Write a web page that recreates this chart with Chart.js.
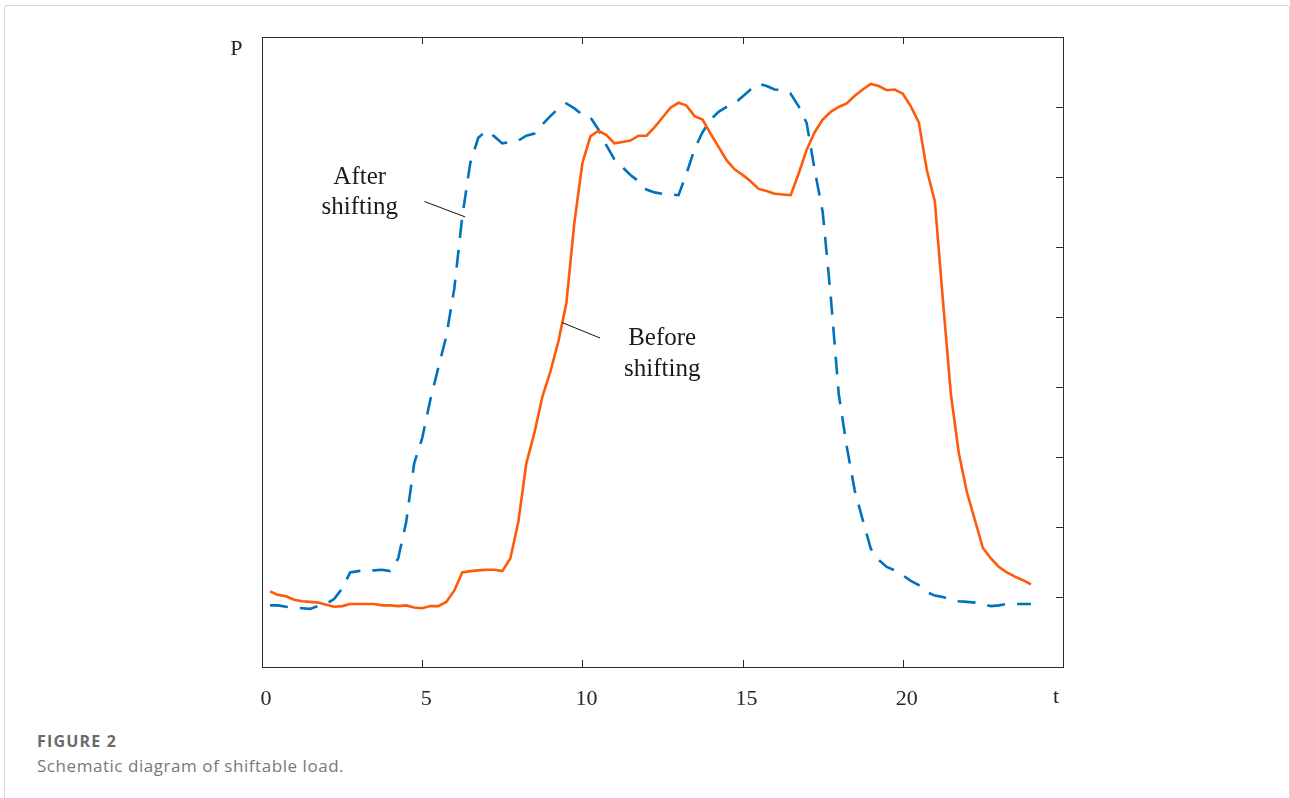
<!DOCTYPE html>
<html>
<head>
<meta charset="utf-8">
<script src="https://cdn.jsdelivr.net/npm/chart.js@4.4.1/dist/chart.umd.min.js"></script>
<style>
  body { margin: 0; background: #fff; }
  #card { position: absolute; left: 4px; top: 5px; width: 1284px; height: 820px; border: 1px solid #d8d8d8; border-radius: 3px; }
  #wrap { position: absolute; left: 0; top: 0; width: 1290px; height: 720px; }
  .cap1 { position: absolute; left: 37px; top: 730px; font: bold 16px "Open Sans", Lato, sans-serif; color: #6a6a6a; letter-spacing: 1.2px; }
  .cap2 { position: absolute; left: 37px; top: 754px; font: 17px "Open Sans", Lato, sans-serif; color: #787878; letter-spacing: 0.55px; }
</style>
</head>
<body>
<div id="card"></div>
<div id="wrap"><canvas id="chart" width="1290" height="720"></canvas></div>
<div class="cap1">FIGURE 2</div>
<div class="cap2">Schematic diagram of shiftable load.</div>
<script>
// Carga desplazable: curva antes / después del desplazamiento (t en horas)
const hours = [
  0.25, 0.5, 0.75, 1, 1.25, 1.5, 1.75, 2, 2.25, 2.5, 2.75, 3,
  3.25, 3.5, 3.75, 4, 4.25, 4.5, 4.75, 5, 5.25, 5.5, 5.75, 6,
  6.25, 6.5, 6.75, 7, 7.25, 7.5, 7.75, 8, 8.25, 8.5, 8.75, 9,
  9.25, 9.5, 9.75, 10, 10.25, 10.5, 10.75, 11, 11.25, 11.5, 11.75, 12,
  12.25, 12.5, 12.75, 13, 13.25, 13.5, 13.75, 14, 14.25, 14.5, 14.75, 15,
  15.25, 15.5, 15.75, 16, 16.25, 16.5, 16.75, 17, 17.25, 17.5, 17.75, 18,
  18.25, 18.5, 18.75, 19, 19.25, 19.5, 19.75, 20, 20.25, 20.5, 20.75, 21,
  21.25, 21.5, 21.75, 22, 22.25, 22.5, 22.75, 23, 23.25, 23.5, 23.75, 24,
];
const beforeShift = [
  1.08, 1.03, 1.01, 0.96, 0.94, 0.93, 0.92, 0.89, 0.86, 0.87, 0.90, 0.90,
  0.90, 0.90, 0.88, 0.88, 0.87, 0.88, 0.85, 0.84, 0.87, 0.87, 0.93, 1.09,
  1.35, 1.37, 1.38, 1.39, 1.39, 1.37, 1.55, 2.07, 2.91, 3.34, 3.86, 4.22,
  4.65, 5.20, 6.35, 7.20, 7.58, 7.66, 7.60, 7.48, 7.50, 7.52, 7.59, 7.59,
  7.71, 7.85, 7.99, 8.06, 8.02, 7.87, 7.82, 7.62, 7.43, 7.24, 7.11, 7.03,
  6.94, 6.83, 6.80, 6.76, 6.75, 6.74, 7.05, 7.39, 7.64, 7.82, 7.93, 8.00,
  8.05, 8.16, 8.25, 8.33, 8.30, 8.24, 8.25, 8.19, 8.01, 7.78, 7.10, 6.65,
  5.25, 3.90, 3.05, 2.50, 2.10, 1.70, 1.55, 1.43, 1.35, 1.29, 1.24, 1.18,
];
const afterShift = [
  0.88, 0.88, 0.86, 0.85, 0.84, 0.83, 0.87, 0.90, 0.97, 1.12, 1.35, 1.37,
  1.38, 1.38, 1.39, 1.37, 1.55, 2.07, 2.91, 3.27, 3.81, 4.27, 4.72, 5.40,
  6.43, 7.20, 7.56, 7.66, 7.58, 7.48, 7.50, 7.52, 7.59, 7.62, 7.75, 7.87,
  7.98, 8.05, 7.98, 7.89, 7.85, 7.68, 7.45, 7.25, 7.14, 7.03, 6.94, 6.82,
  6.78, 6.76, 6.75, 6.74, 7.05, 7.40, 7.64, 7.82, 7.93, 8.00, 8.05, 8.15,
  8.25, 8.33, 8.30, 8.25, 8.24, 8.19, 8.01, 7.77, 7.10, 6.50, 5.30, 3.90,
  3.15, 2.52, 2.10, 1.69, 1.53, 1.43, 1.38, 1.31, 1.23, 1.17, 1.07, 1.02,
  1.00, 0.96, 0.94, 0.93, 0.92, 0.90, 0.87, 0.88, 0.90, 0.90, 0.90, 0.90,
];
const xTicks = [0, 5, 10, 15, 20];
const yTicks = [0, 1, 2, 3, 4, 5, 6, 7, 8, 9];
// etiquetas: [texto, t, P]
const notes = [
  ["After", 3.05, 6.99], ["shifting", 3.05, 6.56],
  ["Before", 12.49, 4.69], ["shifting", 12.49, 4.25],
];
const leaders = [[5.07, 6.65, 6.34, 6.43], [9.37, 4.92, 10.55, 4.70]];

const COLORS = { before: "#ff5a0a", after: "#0072bd", axis: "#2b2b2b" };
const SERIF = '"Liberation Serif", "Times New Roman", serif';

const frame = {
  id: "frame",
  afterDraw(chart) {
    const { ctx, chartArea: a, scales: { x, y } } = chart;
    ctx.save();
    ctx.strokeStyle = COLORS.axis;
    ctx.lineWidth = 1;
    ctx.strokeRect(a.left + 0.5, a.top + 0.5, a.right - a.left, a.bottom - a.top);
    ctx.beginPath();
    xTicks.forEach((v) => {
      const px = Math.round(x.getPixelForValue(v)) + 0.5;
      ctx.moveTo(px, a.bottom); ctx.lineTo(px, a.bottom - 7);
      ctx.moveTo(px, a.top); ctx.lineTo(px, a.top + 7);
    });
    yTicks.forEach((v) => {
      const py = Math.round(y.getPixelForValue(v)) + 0.5;
      ctx.moveTo(a.right, py); ctx.lineTo(a.right - 7, py);
    });
    ctx.stroke();

    ctx.fillStyle = "#1a1a1a";
    ctx.font = "25px " + SERIF;
    ctx.textAlign = "center";
    ctx.textBaseline = "middle";
    notes.forEach(([s, t, p]) => ctx.fillText(s, x.getPixelForValue(t), y.getPixelForValue(p)));
    ctx.beginPath();
    ctx.strokeStyle = "#111";
    leaders.forEach(([t1, p1, t2, p2]) => {
      ctx.moveTo(x.getPixelForValue(t1), y.getPixelForValue(p1));
      ctx.lineTo(x.getPixelForValue(t2), y.getPixelForValue(p2));
    });
    ctx.stroke();

    ctx.font = "22px " + SERIF;
    ctx.fillStyle = "#262626";
    ctx.fillText("P", x.getPixelForValue(-0.8), y.getPixelForValue(8.82));
    ctx.fillText("t", x.getPixelForValue(24.78), a.bottom + 30);
    ctx.restore();
  },
};

new Chart("chart", {
  type: "line",
  data: {
    datasets: [
      { label: "Before shifting", data: hours.map((h, i) => ({ x: h, y: beforeShift[i] })),
        borderColor: COLORS.before, borderWidth: 2.6 },
      { label: "After shifting", data: hours.map((h, i) => ({ x: h, y: afterShift[i] })),
        borderColor: COLORS.after, borderWidth: 2.6, borderDash: [18, 12] },
    ],
  },
  options: {
    responsive: false,
    animation: false,
    elements: { point: { radius: 0 }, line: { tension: 0, borderCapStyle: "butt" } },
    layout: { padding: { left: 262, top: 37, right: 227, bottom: 8 } },
    plugins: { legend: { display: false }, tooltip: { enabled: false } },
    scales: {
      x: {
        type: "linear", min: 0, max: 25,
        afterFit: (s) => { s.height = 45; },
        grid: { display: false }, border: { display: false },
        ticks: { stepSize: 5, padding: 11, labelOffset: 4, color: "#262626", font: { family: SERIF, size: 22 },
          callback: (v) => (xTicks.includes(v) ? String(v) : "") },
      },
      y: { min: 0, max: 9, display: false },
    },
  },
  plugins: [frame],
});
</script>
</body>
</html>
